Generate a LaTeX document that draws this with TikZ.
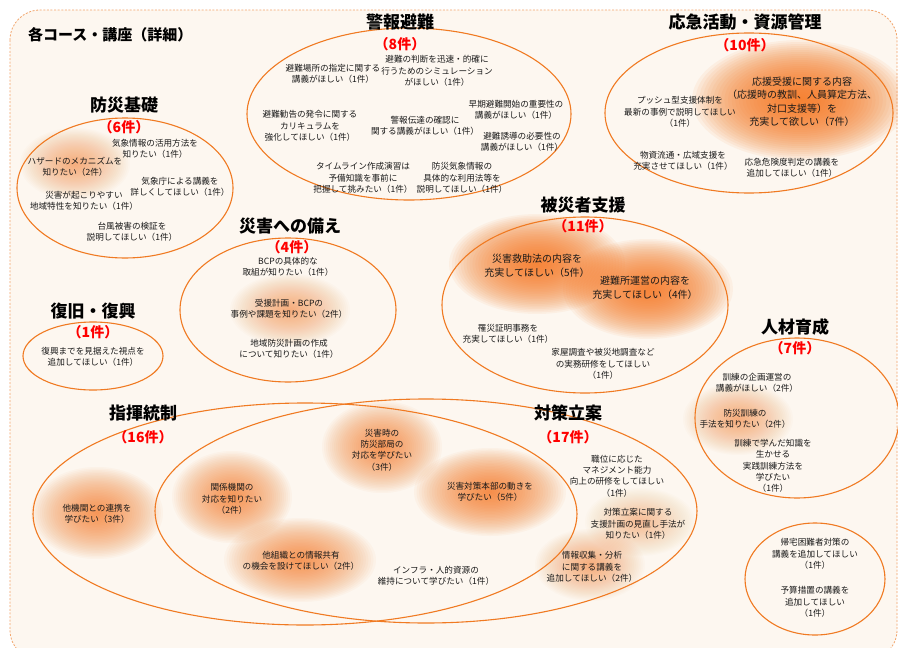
\documentclass[tikz,border=0pt]{standalone}
\usepackage{fontspec}
\newfontfamily\jp{Noto Sans CJK JP}
\definecolor{cream}{HTML}{FDF7F0}
\definecolor{ringc}{HTML}{F07A22}
\definecolor{dashc}{HTML}{F2A46A}
\definecolor{glowc}{HTML}{F67A24}
\newcommand\myglow[5]{%
  \foreach \i in {1,...,30}{\fill[glowc, fill opacity=#5] (#1,#2) ellipse ({#3*\i/30} and {#4*\i/30});}}
\begin{document}
\begin{tikzpicture}[x=1pt,y=-1pt,
  ttl/.style={inner sep=0, font=\jp\bfseries\fontsize{17}{19}\selectfont},
  cnt/.style={inner sep=0, text=red, font=\jp\bfseries\fontsize{14}{16}\selectfont},
  txt/.style={inner sep=0, align=center, text=black!90, font=\jp\fontsize{8.6}{11.3}\selectfont},
  bigtxt/.style={inner sep=0, align=center, text=black!90, font=\jp\fontsize{10}{13.5}\selectfont},
  ringline/.style={draw=ringc, line width=1.1pt}]
\useasboundingbox (0,0) rectangle (898,648);
\fill[white] (0,0) rectangle (898,648);
\filldraw[fill=cream, draw=dashc, line width=0.8pt, dash pattern=on 2pt off 1.6pt, rounded corners=30pt] (10,10) rectangle (897,660);

% glows
\myglow{75}{164}{55}{36}{0.022}
\myglow{290}{310}{60}{36}{0.022}
\myglow{537}{264}{88}{50}{0.062}
\myglow{648}{289}{85}{50}{0.062}
\myglow{800}{100}{108}{60}{0.07}
\myglow{738}{419}{55}{36}{0.022}
\myglow{97}{513}{66}{46}{0.04}
\myglow{232}{497}{60}{46}{0.04}
\myglow{300}{560}{76}{42}{0.04}
\myglow{382}{447}{60}{46}{0.04}
\myglow{490}{492}{76}{44}{0.046}
\myglow{590}{565}{55}{36}{0.022}
\myglow{640}{522}{55}{34}{0.015}

% rings
\draw[ringline] (125,188) ellipse (108 and 70);
\draw[ringline] (409,114) ellipse (162 and 86);
\draw[ringline] (749,113) ellipse (144 and 80);
\draw[ringline] (288,310) ellipse (108 and 72);
\draw[ringline] (585,305) ellipse (143 and 88);
\draw[ringline] (93,356) ellipse (70 and 34);
\draw[ringline] (797,418) ellipse (102 and 80);
\draw[ringline] (815,579) ellipse (70 and 56);
\draw[ringline] (305,514) ellipse (272 and 111);
\draw[ringline] (426,511) ellipse (271 and 112);

% main title
\node[anchor=west, inner sep=0, font=\jp\bfseries\fontsize{15}{17}\selectfont] (main) at (28,35) {各コース・講座（詳細）};

% 防災基礎
\node[ttl] (t1) at (124,105) {防災基礎};
\node[cnt] (c1) at (124,127) {（6件）};
\node[txt] (a1) at (155,149) {気象情報の活用方法を\\知りたい（1件）};
\node[txt] (a2) at (75,167) {ハザードのメカニズムを\\知りたい（2件）};
\node[txt] (a3) at (180,187) {気象庁による講義を\\詳しくしてほしい（1件）};
\node[txt] (a4) at (84,201) {災害が起こりやすい\\地域特性を知りたい（1件）};
\node[txt] (a5) at (132,232) {台風被害の検証を\\説明してほしい（1件）};

% 警報避難
\node[ttl] (t2) at (400,22) {警報避難};
\node[cnt] (c2) at (400,44) {（8件）};
\node[txt] (b1) at (333,74) {避難場所の指定に関する\\講義がほしい（1件）};
\node[txt] (b2) at (437,71) {避難の判断を迅速・的確に\\行うためのシミュレーション\\がほしい（1件）};
\node[txt] (b3) at (310,126) {避難勧告の発令に関する\\カリキュラムを\\強化してほしい（1件）};
\node[txt] (b4) at (425,126) {警報伝達の確認に\\関する講義がほしい（1件）};
\node[txt] (b5) at (516,110) {早期避難開始の重要性の\\講義がほしい（1件）};
\node[txt] (b6) at (522,142) {避難誘導の必要性の\\講義がほしい（1件）};
\node[txt] (b7) at (363,178) {タイムライン作成演習は\\予備知識を事前に\\把握して挑みたい（1件）};
\node[txt] (b8) at (462,178) {防災気象情報の\\具体的な利用法等を\\説明してほしい（1件）};

% 応急活動・資源管理
\node[ttl] (t3) at (745,22) {応急活動・資源管理};
\node[cnt] (c3) at (745,45) {（10件）};
\node[bigtxt] (d1) at (802,102) {応援受援に関する内容\\（応援時の教訓、人員算定方法、\\対口支援等）を\\充実して欲しい（7件）};
\node[txt] (d2) at (680,112) {プッシュ型支援体制を\\最新の事例で説明してほしい\\（1件）};
\node[txt] (d3) at (683,161) {物資流通・広域支援を\\充実させてほしい（1件）};
\node[txt] (d4) at (792,168) {応急危険度判定の講義を\\追加してほしい（1件）};

% 災害への備え
\node[ttl] (t4) at (290,226) {災害への備え};
\node[cnt] (c4) at (292,247) {（4件）};
\node[txt] (e1) at (288,267) {BCPの具体的な\\取組が知りたい（1件）};
\node[txt] (e2) at (289,309) {受援計画・BCPの\\事例や課題を知りたい（2件）};
\node[txt] (e3) at (289,349) {地域防災計画の作成\\について知りたい（1件）};

% 被災者支援
\node[ttl] (t5) at (583,205) {被災者支援};
\node[cnt] (c5) at (583,226) {（11件）};
\node[bigtxt] (f1) at (537,266) {災害救助法の内容を\\充実してほしい（5件）};
\node[bigtxt] (f2) at (645,288) {避難所運営の内容を\\充実してほしい（4件）};
\node[txt] (f3) at (508,334) {罹災証明事務を\\充実してほしい（1件）};
\node[txt] (f4) at (603,364) {家屋調査や被災地調査など\\の実務研修をしてほしい\\（1件）};

% 復旧・復興
\node[ttl] (t6) at (93,311) {復旧・復興};
\node[cnt] (c6) at (93,332) {（1件）};
\node[txt] (g1) at (93,357) {復興までを見据えた視点を\\追加してほしい（1件）};

% 人材育成
\node[ttl] (t7) at (795,327) {人材育成};
\node[cnt] (c7) at (795,348) {（7件）};
\node[txt] (h1) at (757,383) {訓練の企画運営の\\講義がほしい（2件）};
\node[txt] (h2) at (745,419) {防災訓練の\\手法を知りたい（2件）};
\node[txt] (h3) at (773,466) {訓練で学んだ知識を\\生かせる\\実践訓練方法を\\学びたい\\（1件）};

% 右下
\node[txt] (k1) at (815,554) {帰宅困難者対策の\\講義を追加してほしい\\（1件）};
\node[txt] (k2) at (815,602) {予算措置の講義を\\追加してほしい\\（1件）};

% 指揮統制・対策立案
\node[ttl] (t8) at (143,413) {指揮統制};
\node[cnt] (c8) at (143,437) {（16件）};
\node[ttl] (t9) at (568,413) {対策立案};
\node[cnt] (c9) at (568,437) {（17件）};
\node[txt] (m1) at (97,514) {他機関との連携を\\学びたい（3件）};
\node[txt] (m2) at (232,499) {関係機関の\\対応を知りたい\\（2件）};
\node[txt] (m3) at (301,561) {他組織との情報共有\\の機会を設けてほしい（2件）};
\node[txt] (m4) at (382,450) {災害時の\\防災部局の\\対応を学びたい\\（3件）};
\node[txt] (m5) at (490,492) {災害対策本部の動きを\\学びたい（5件）};
\node[txt] (m6) at (436,576) {インフラ・人的資源の\\維持について学びたい（1件）};
\node[txt] (n1) at (617,476) {職位に応じた\\マネジメント能力\\向上の研修をしてほしい\\（1件）};
\node[txt] (n2) at (638,524) {対策立案に関する\\支援計画の見直し手法が\\知りたい（1件）};
\node[txt] (n3) at (592,567) {情報収集・分析\\に関する講義を\\追加してほしい（2件）};
\end{tikzpicture}
\end{document}
